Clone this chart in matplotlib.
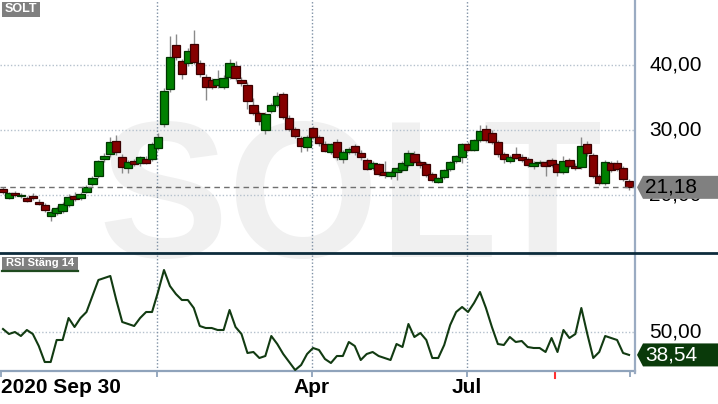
import matplotlib
matplotlib.use("Agg")
import matplotlib.pyplot as plt
from matplotlib.patches import Polygon, Rectangle
from matplotlib.lines import Line2D
from matplotlib.transforms import blended_transform_factory

plt.rcParams['font.family'] = ['Liberation Sans', 'DejaVu Sans']

# ---------------- data ----------------
ticker = "SOLT"
rsi_title = "RSI Stäng 14"

opens = [20.9, 19.6, 20.3, 19.8, 19.6, 19.9, 19.0, 18.4, 16.7, 17.2,
         17.6, 18.5, 19.9, 19.6, 20.5, 21.7, 22.9, 25.5, 26.3, 28.3,
         25.9, 24.1, 25.2, 24.9, 25.6, 25.6, 27.3, 31.0, 36.3, 43.1,
         40.6, 40.3, 43.2, 40.3, 38.2, 37.7, 36.9, 36.6, 38.2, 39.8,
         37.7, 37.0, 33.8, 32.6, 30.0, 33.0, 33.8, 35.5, 31.9, 30.1,
         28.8, 27.4, 30.3, 28.9, 27.9, 26.6, 28.1, 25.5, 26.6, 27.5,
         26.5, 25.4, 24.2, 24.7, 23.5, 22.9, 23.5, 23.9, 24.6, 26.3,
         25.1, 24.8, 23.2, 22.0, 22.7, 24.0, 25.2, 25.9, 27.8, 27.0,
         28.4, 30.2, 29.6, 28.1, 26.3, 25.3, 26.3, 25.8, 25.5, 24.4,
         24.9, 25.1, 25.4, 24.7, 23.6, 25.4, 24.5, 24.3, 27.8, 26.1,
         22.9, 21.8, 25.0, 25.0, 24.1, 22.2]
highs = [21.2, 20.5, 20.6, 20.3, 19.9, 20.3, 19.4, 18.7, 17.8, 18.3,
         19.0, 20.1, 20.4, 20.5, 21.5, 22.9, 25.4, 26.5, 28.9, 29.3,
         26.3, 25.4, 25.5, 26.0, 26.0, 28.2, 29.5, 36.4, 44.5, 44.8,
         41.0, 42.6, 45.4, 40.8, 38.6, 38.0, 39.2, 38.4, 40.9, 40.6,
         38.1, 37.4, 34.9, 33.0, 32.8, 34.1, 35.9, 35.9, 32.3, 30.4,
         29.1, 29.3, 30.6, 29.3, 28.3, 28.0, 28.6, 26.9, 27.4, 27.8,
         26.9, 25.7, 25.2, 25.0, 25.2, 23.8, 24.3, 25.2, 27.0, 26.7,
         25.4, 25.1, 23.5, 22.8, 24.0, 25.3, 26.2, 28.0, 28.1, 28.6,
         30.8, 30.8, 30.0, 28.4, 26.6, 26.1, 27.4, 26.3, 25.8, 25.3,
         25.4, 25.4, 25.7, 25.0, 26.0, 25.7, 24.9, 28.9, 28.3, 26.4,
         23.3, 25.4, 25.3, 25.4, 24.4, 22.4]
lows = [20.2, 19.4, 19.7, 19.5, 18.9, 19.3, 18.4, 17.4, 16.0, 16.9,
        17.3, 18.2, 19.1, 19.3, 20.3, 21.4, 22.6, 25.1, 25.9, 26.2,
        23.4, 23.4, 24.5, 24.4, 24.8, 25.3, 27.0, 30.5, 35.8, 40.8,
        37.8, 39.8, 40.2, 38.2, 34.6, 36.3, 36.5, 36.3, 37.8, 37.6,
        36.8, 33.3, 32.3, 30.7, 29.4, 32.6, 33.5, 31.7, 29.8, 28.8,
        26.6, 26.8, 28.6, 27.6, 26.6, 26.3, 25.4, 25.0, 26.3, 26.2,
        25.4, 23.8, 23.8, 23.0, 22.6, 22.4, 22.3, 23.6, 24.3, 24.9,
        24.1, 22.8, 22.0, 21.8, 22.4, 23.7, 24.9, 24.9, 26.7, 26.7,
        28.1, 28.2, 27.9, 25.9, 24.9, 24.9, 25.5, 25.1, 24.3, 24.0,
        24.5, 22.9, 24.3, 23.0, 23.2, 24.2, 23.9, 24.0, 26.0, 22.6,
        21.5, 21.5, 23.5, 23.7, 22.2, 20.7]
closes = [20.4, 20.3, 20.0, 20.0, 19.1, 19.5, 18.6, 17.7, 17.4, 18.0,
          18.6, 19.7, 19.4, 20.2, 21.3, 22.6, 25.2, 26.0, 28.2, 26.6,
          24.3, 25.1, 24.8, 25.8, 25.0, 27.8, 29.0, 36.0, 41.2, 41.2,
          38.6, 42.2, 40.5, 38.6, 36.6, 36.6, 37.8, 38.0, 40.3, 38.0,
          37.2, 34.5, 32.6, 31.4, 32.5, 33.8, 35.3, 32.0, 30.2, 29.1,
          27.6, 29.0, 29.0, 28.0, 26.8, 27.8, 25.8, 26.6, 27.1, 26.6,
          25.8, 24.0, 24.9, 23.3, 23.1, 23.6, 24.2, 24.9, 26.5, 25.1,
          24.6, 23.1, 22.3, 22.6, 23.8, 25.1, 26.0, 27.8, 26.9, 28.4,
          29.8, 28.5, 28.2, 26.3, 25.5, 25.8, 25.7, 25.4, 24.6, 25.0,
          25.1, 24.4, 24.6, 23.6, 25.2, 24.4, 24.1, 27.5, 26.4, 22.9,
          21.8, 25.1, 23.8, 24.0, 22.5, 21.18]
rsi = [51.5, 49, 50, 48, 51, 49, 43, 35, 35, 46,
       46, 57, 52.5, 57, 60, 68, 76, 77, 78, 66,
       55, 54, 53, 57, 60, 60, 70, 81, 73, 69,
       66, 66, 62, 53, 52, 52, 51, 51, 61, 52.5,
       49, 39.5, 40, 37, 38, 48, 44, 39, 35, 31,
       33.5, 39, 42, 41, 36.5, 34.5, 38, 38, 45, 43,
       36, 39, 40, 38, 37, 36, 44, 42.5, 54, 47.5,
       49.5, 46, 37, 37, 43.5, 53.5, 60, 62.5, 60, 64.5,
       70, 62, 52.5, 44, 43.5, 47.5, 45, 45.5, 42.5, 42,
       42, 40, 47, 40, 51, 47, 49, 62, 49, 37,
       40, 48, 47, 46, 39.5, 38.54]

price_ticks = [20, 30, 40]
price_tick_labels = ["20,00", "30,00", "40,00"]
rsi_ticks = [50]
rsi_tick_labels = ["50,00"]
date_tick_pos = [-0.34, 25.8, 51.8, 77.8, 105.2]
date_tick_labels = ["2020 Sep 30", "", "Apr", "Jul", ""]
marker_tick_pos = 92.6
last_price_label = "21,18"
last_rsi_label = "38,54"

# ---------------- layout ----------------
W, H = 718, 404
PX_RIGHT, SEP_Y, BOT_Y = 635, 253, 371
fig = plt.figure(figsize=(W / 100, H / 100), dpi=100)
fig.patch.set_facecolor('white')

# watermark
fig.text(350 / W, (H - 257) / H, ticker, fontsize=140, fontweight='bold',
         color='#f0f0f0', ha='center', va='baseline', zorder=-5)

ax = fig.add_axes([0, (H - SEP_Y) / H, PX_RIGHT / W, SEP_Y / H])
axr = fig.add_axes([0, (H - BOT_Y) / H, PX_RIGHT / W, (BOT_Y - SEP_Y) / H], sharex=ax)
for a in (ax, axr):
    a.set_facecolor('none')
    for s in a.spines.values():
        s.set_visible(False)
    a.set_yticks([])

n = len(closes)
x = list(range(n))
ax.set_xlim(-0.503, 106.0)
ax.set_ylim(11.08, 50.0)
axr.set_ylim(30.5, 89.5)

grid_h = dict(color='#b5c1cd', lw=1.0, ls=(0, (1, 1.5)), zorder=1)
grid_v = dict(color='#7f91a5', lw=1.0, ls=(0, (1, 1.5)), zorder=1)
for v in price_ticks:
    ax.axhline(v, **grid_h)
for v in rsi_ticks:
    axr.axhline(v, **grid_h)
for p, lab in zip(date_tick_pos, date_tick_labels):
    if 0 < p < 100:
        ax.axvline(p, **grid_v)
        axr.axvline(p, **grid_v)

# candles
ax.vlines(x, lows, highs, color='#8a8a8a', lw=1.0, zorder=2)
bottoms = [min(o, c) for o, c in zip(opens, closes)]
heights = [abs(c - o) for o, c in zip(opens, closes)]
faces = ['#008000' if c >= o else '#850000' for o, c in zip(opens, closes)]
edges = ['#003500' if c >= o else '#3a0000' for o, c in zip(opens, closes)]
ax.bar(x, heights, bottom=bottoms, width=1.4, color=faces, edgecolor=edges,
       linewidth=0.9, zorder=3)

# last price dashed line
ax.axhline(closes[-1], color='#707070', lw=1.0, ls=(0, (4, 3)), zorder=4)

# RSI
axr.plot(x, rsi, color='#123b12', lw=1.5, zorder=3)

# x axis of RSI panel
axr.spines['bottom'].set_visible(True)
axr.spines['bottom'].set_color('#8fa3bb')
axr.spines['bottom'].set_linewidth(1.6)
axr.set_xticks(date_tick_pos)
axr.set_xticklabels(date_tick_labels, fontsize=15, fontweight='bold')
axr.get_xticklabels()[0].set_horizontalalignment('left')
axr.tick_params(axis='x', length=4.3, width=1.3, color='#8fa3bb', pad=0.5)
ax.tick_params(axis='x', bottom=False, labelbottom=False)
trr = blended_transform_factory(axr.transData, axr.transAxes)
axr.plot([marker_tick_pos, marker_tick_pos], [-0.017, -0.06], transform=trr,
         color='#ff3030', lw=1.5, clip_on=False)

# right side tick labels
for a, ticks, labs in ((ax, price_ticks, price_tick_labels), (axr, rsi_ticks, rsi_tick_labels)):
    tr = blended_transform_factory(a.transAxes, a.transData)
    for v, lab in zip(ticks, labs):
        a.text(1 + 14 / PX_RIGHT, v, lab, transform=tr, ha='left', va='center',
               fontsize=15, color='black', clip_on=False, zorder=5)

# frame lines
fig.add_artist(Line2D([PX_RIGHT / W, PX_RIGHT / W], [(H - 373) / H, 1.0],
                      transform=fig.transFigure, color='#9aabc2', lw=1.6, zorder=6))
fig.add_artist(Line2D([0, 1], [(H - SEP_Y) / H, (H - SEP_Y) / H],
                      transform=fig.transFigure, color='#0d2c3c', lw=2.0, zorder=6))

# value boxes
def value_box(a, value, text, face, tcolor):
    yd = a.transData.transform((0, value))[1]
    pts = [(637, yd), (643, yd + 11.5), (W, yd + 11.5), (W, yd - 11.5), (643, yd - 11.5)]
    pts = [(px / W, py / H) for px, py in pts]
    fig.add_artist(Polygon(pts, closed=True, transform=fig.transFigure,
                           facecolor=face, edgecolor='none', zorder=7))
    fig.text(645 / W, yd / H, text, fontsize=15, color=tcolor, ha='left',
             va='center', zorder=8)

value_box(ax, closes[-1], last_price_label, '#808080', 'black')
value_box(axr, rsi[-1], last_rsi_label, '#0a3a0a', 'white')

# title tags
def tag(x0, y0, x1, y1, text, size, underline=None):
    fig.add_artist(Rectangle((x0 / W, (H - y1) / H), (x1 - x0) / W, (y1 - y0) / H,
                             transform=fig.transFigure, facecolor='#7f7f7f',
                             edgecolor='none', zorder=7))
    fig.text((x0 + x1) / 2 / W, (H - (y0 + y1) / 2) / H, text, fontsize=size,
             fontweight='bold', color='white', ha='center', va='center', zorder=8)
    if underline:
        fig.add_artist(Line2D([x0 / W, x1 / W], [(H - y1 - 0.8) / H] * 2,
                              transform=fig.transFigure, color=underline, lw=1.6, zorder=8))

tag(2, 2, 40, 17, ticker, 9)
tag(2, 257, 78, 270, rsi_title, 8)
fig.add_artist(Line2D([2 / W, 78 / W], [(H - 270.8) / H] * 2,
                      transform=fig.transFigure, color='#1f4a1f', lw=1.6, zorder=8))

fig.savefig('out.png', dpi=100, facecolor='white')
